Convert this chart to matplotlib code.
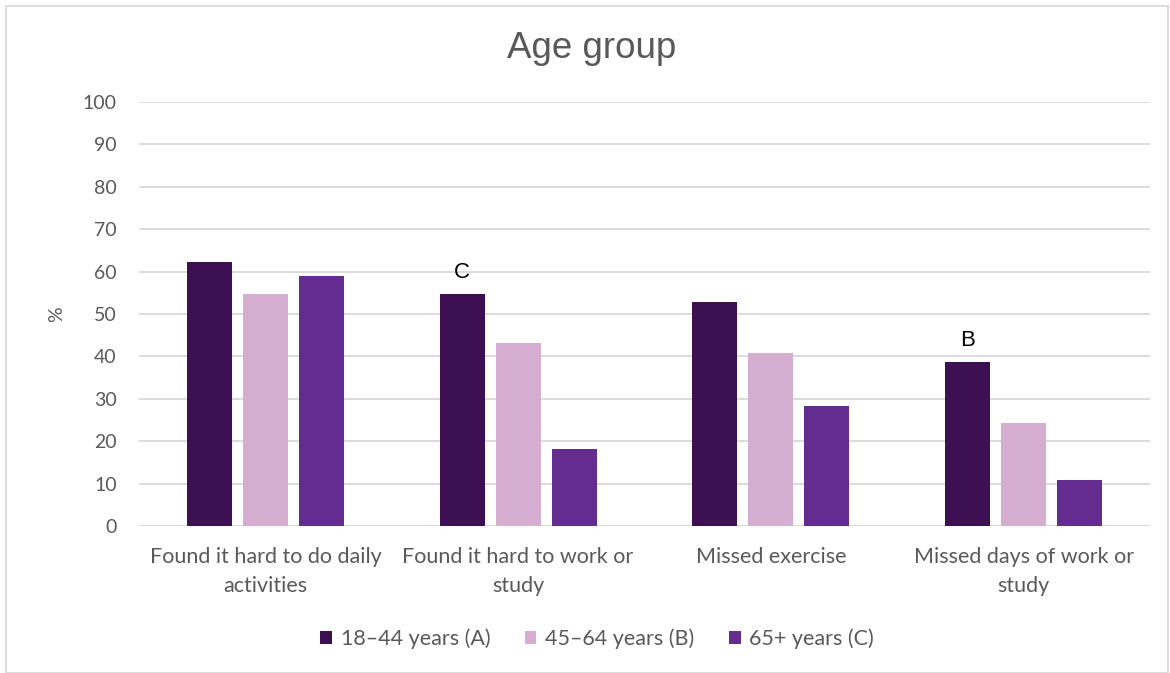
import numpy as np
import matplotlib.pyplot as plt
from matplotlib.patches import Rectangle

categories = ["Found it hard to do daily\nactivities", "Found it hard to work or\nstudy",
              "Missed exercise", "Missed days of work or\nstudy"]
series = ["18\u201344 years (A)", "45\u201364 years (B)", "65+ years (C)"]
vals_a = [62.3, 54.7, 52.8, 38.7]
vals_b = [54.7, 43.2, 40.8, 24.3]
vals_c = [59.0, 18.2, 28.3, 10.8]
notes = ["", "C", "", "B"]
colors = ["#3C1053", "#D5ADD0", "#652C90"]

plt.rcParams['font.family'] = ['Lato', 'DejaVu Sans']
fig = plt.figure(figsize=(11.7, 6.73), dpi=100)
ax = fig.add_axes([139/1170, 1-526/673, (1150-139)/1170, (526-102)/673])

x = np.arange(len(categories))
w = 0.178
step = 0.222
for i, (v, c, lab) in enumerate(zip([vals_a, vals_b, vals_c], colors, series)):
    ax.bar(x + (i-1)*step, v, w, color=c, label=lab, zorder=3)

for xi, v, n in zip(x, vals_a, notes):
    if n:
        ax.text(xi - step, v + 2.5, n, ha='center', va='bottom', fontsize=16,
                color='black', family='Liberation Sans')

ax.set_xlim(-0.5, 3.5)
ax.set_ylim(0, 100)
ax.set_yticks(range(0, 101, 10))
ax.grid(axis='y', color='#D9D9D9', lw=1.3, zorder=0)
for s in ax.spines.values():
    s.set_visible(False)
ax.tick_params(length=0, colors='#595959', labelsize=14)
ax.tick_params(axis='y', pad=16)
ax.tick_params(axis='x', pad=15, labelsize=15.5)
ax.set_xticks(x)
ax.set_xticklabels(categories, linespacing=1.55)
ax.axhline(0, color='#D9D9D9', lw=1.3, zorder=2)
ax.set_ylabel('%', fontsize=14, color='#595959', labelpad=13)

fig.text(592/1170, 1-49/673, 'Age group', ha='center', va='center', fontsize=26.5,
         color='#595959', family='Liberation Sans')

fig.legend(loc='center', bbox_to_anchor=(597/1170, 1-639/673), ncol=3, frameon=False,
           fontsize=15.5, labelcolor='#595959', handlelength=0.55, handleheight=0.55,
           handletextpad=0.4, columnspacing=1.6)

fig.patches.append(Rectangle((6/1170, 0), 1162/1170, 1-6/673, transform=fig.transFigure,
                             fill=False, ec='#D9D9D9', lw=1.3))
fig.savefig('out.png', dpi=100)
